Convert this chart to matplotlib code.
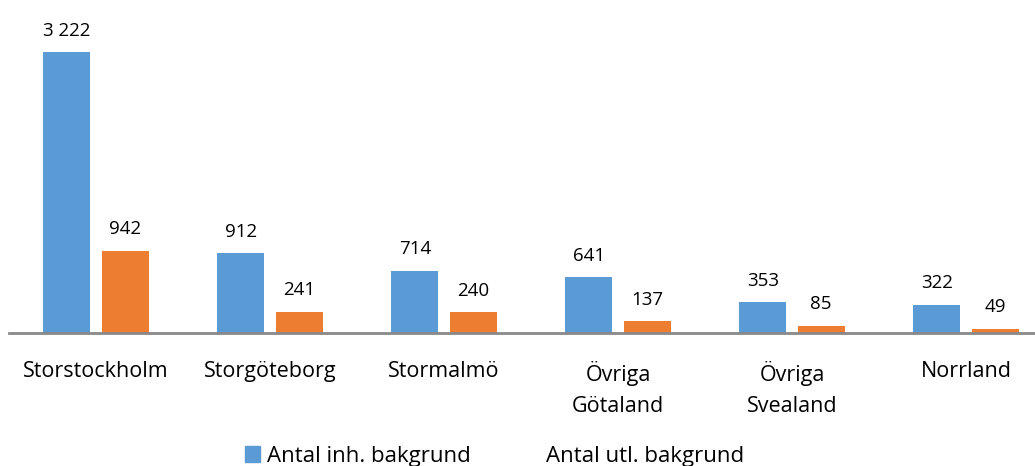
import numpy as np
import matplotlib.pyplot as plt
from matplotlib.patches import Patch

plt.rcParams['font.family'] = ['Open Sans', 'DejaVu Sans']

regions = ["Storstockholm", "Storgöteborg", "Stormalmö", "Övriga\nGötaland", "Övriga\nSvealand", "Norrland"]
inh = [3222, 912, 714, 641, 353, 322]
utl = [942, 241, 240, 137, 85, 49]
series_names = ["Antal inh. bakgrund", "Antal utl. bakgrund"]

blue = "#5B9BD5"
orange = "#ED7D31"

fig = plt.figure(figsize=(10.35, 4.66), dpi=100)
ax = fig.add_axes([9 / 1035, 133 / 466, 1026 / 1035, 333 / 466])

x = np.arange(len(regions))
w = 0.27
off = 0.167
b1 = ax.bar(x - off, inh, w, color=blue)
b2 = ax.bar(x + off, utl, w, color=orange)

def fmt(v):
    return f"{v:,}".replace(",", " ")

for bars, vals in [(b1, inh), (b2, utl)]:
    for r, v in zip(bars, vals):
        ax.annotate(fmt(v), (r.get_x() + r.get_width() / 2, v), xytext=(0, 9),
                    textcoords="offset points", ha="center", va="bottom", fontsize=13.5)

ax.set_xlim(-0.5, -0.5 + 1026 / 174)
ax.set_ylim(0, 3222 * 333 / 281)
for s in ["top", "right", "left"]:
    ax.spines[s].set_visible(False)
ax.spines["bottom"].set_color("#898989")
ax.spines["bottom"].set_linewidth(2)
ax.set_yticks([])
ax.set_xticks(x)
ax.set_xticklabels(regions, fontsize=15.5, linespacing=1.65)
ax.tick_params(axis="x", length=0, pad=20)

handles = [Patch(color=blue), Patch(color="none")]
fig.legend(handles, series_names, loc="lower center", bbox_to_anchor=(0.478, -0.045),
           ncol=2, frameon=False, fontsize=16, handlelength=0.7, handleheight=0.7,
           handletextpad=0.3, columnspacing=2.4)

fig.savefig("out.png", dpi=100)
